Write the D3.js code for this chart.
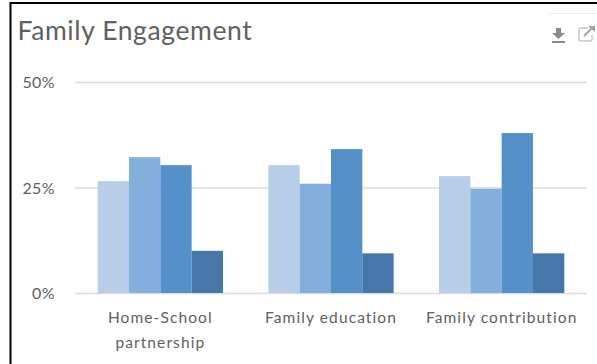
<!DOCTYPE html>
<html>
<head>
<meta charset="utf-8">
<script src="https://cdn.jsdelivr.net/npm/d3@7"></script>
<style>
html,body{margin:0;padding:0;background:#fff}
svg{display:block}
text{font-family:Lato,"Open Sans",sans-serif;fill:#606060}
</style>
</head>
<body>
<svg id="chart" width="597" height="364"></svg>
<script>
const categories = ["Home-School partnership", "Family education", "Family contribution"];
const seriesNames = ["s1", "s2", "s3", "s4"];
const series1 = [26.5, 30.3, 27.7];
const series2 = [32.2, 25.9, 24.7];
const series3 = [30.3, 34.1, 37.9];
const series4 = [10.0, 9.4, 9.4];
const seriesValues = [series1, series2, series3, series4];
const colors = ["#B7CDE8", "#84AFDD", "#5591C8", "#4577A8"];
const yTicks = [0, 25, 50];
const categoryLines = [["Home-School", "partnership"], ["Family education"], ["Family contribution"]];

const svg = d3.select("#chart");

// frame: heavy rule along the top and left edges
svg.append("rect").attr("x", 0).attr("y", 0).attr("width", 597).attr("height", 364).attr("fill", "#fff");
svg.append("path").attr("d", "M10.5,364V3H597").attr("fill", "none").attr("stroke", "#000").attr("stroke-width", 2);
svg.append("path").attr("d", "M548,13.5H597").attr("stroke", "#e8ecec").attr("stroke-width", 1);

svg.append("text").attr("x", 17.5).attr("y", 40).attr("font-size", 26.5).attr("letter-spacing", 0.6).text("Family Engagement");

const y = d3.scaleLinear().domain([0, 50]).range([293, 82]);
const x0 = d3.scaleBand().domain(categories).range([75, 587]).paddingInner(0.266).paddingOuter(0.133);
const x1 = d3.scaleBand().domain(seriesNames).range([0, x0.bandwidth()]);

// value axis: gridlines and percent labels
const yAxis = d3.axisLeft(y).tickValues(yTicks).tickSize(-512).tickFormat(d => d + "%");
const gy = svg.append("g").attr("transform", "translate(75,0)").call(yAxis);
gy.select(".domain").remove();
gy.selectAll(".tick line").attr("stroke", "#dcdcdc").attr("stroke-width", 1.5);
gy.selectAll(".tick text").attr("x", -20).attr("dy", "0.36em").attr("font-size", 16).attr("letter-spacing", 0.4)
  .attr("font-family", "Lato").style("fill", "#606060");

// grouped bars
categories.forEach((c, i) => {
  const g = svg.append("g").attr("transform", `translate(${x0(c)},0)`);
  g.selectAll("rect").data(seriesValues.map((s, k) => ({ name: seriesNames[k], v: s[i], color: colors[k] })))
    .join("rect")
    .attr("x", d => x1(d.name))
    .attr("y", d => y(d.v))
    .attr("width", x1.bandwidth())
    .attr("height", d => y(0) - y(d.v))
    .attr("fill", d => d.color);
});

// category labels, wrapped onto two lines where needed
categories.forEach((c, i) => {
  const cx = x0(c) + x0.bandwidth() / 2;
  const t = svg.append("text").attr("text-anchor", "middle").attr("font-size", 15.5).attr("letter-spacing", 1.1);
  categoryLines[i].forEach((line, k) => {
    t.append("tspan").attr("x", cx).attr("y", 323 + k * 24.5).text(line);
  });
});

// toolbar icons: download and open-in-new
const dl = svg.append("g").attr("transform", "translate(552,27)").attr("fill", "#8a8a8a");
dl.append("path").attr("d", "M4,1H9V6H13L6.5,12L0,6H4Z");
dl.append("rect").attr("x", 0).attr("y", 14).attr("width", 13).attr("height", 2);
const ext = svg.append("g").attr("transform", "translate(578,26)").attr("fill", "none");
ext.append("path").attr("d", "M10,2H3A2,2 0 0 0 1,4V13A2,2 0 0 0 3,15H12A2,2 0 0 0 14,13V9")
  .attr("stroke", "#c9c6c6").attr("stroke-width", 1.5);
ext.append("path").attr("d", "M6,10L14,2").attr("stroke", "#a3a3a3").attr("stroke-width", 2);
ext.append("path").attr("d", "M10,0H17V6Z").attr("fill", "#a3a3a3");
</script>
</body>
</html>
